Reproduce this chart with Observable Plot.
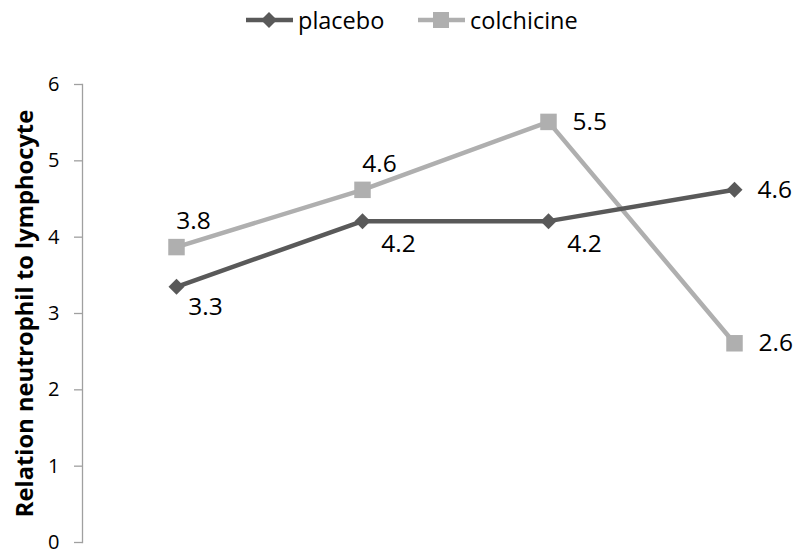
<!DOCTYPE html>
<html>
<head>
<meta charset="utf-8">
<script src="https://cdn.jsdelivr.net/npm/d3@7"></script>
<script src="https://cdn.jsdelivr.net/npm/@observablehq/plot@0.6"></script>
<style>
  body { margin: 0; background: #fff; font-family: "Open Sans", sans-serif; }
  #legend { height: 40px; position: relative; font-size: 23.5px; color: #000; }
  #legend .item { position: absolute; top: 5px; display: flex; align-items: center; height: 30px; }
  #legend svg { display: block; margin-right: 5px; }
</style>
</head>
<body>
<div id="legend"></div>
<div id="chart"></div>
<script>
const timepoints = ["T1", "T2", "T3", "T4"];
const seriesNames = ["placebo", "colchicine"];
const placeboValues = [3.35, 4.21, 4.21, 4.62];
const colchicineValues = [3.87, 4.62, 5.51, 2.61];
const placeboLabels = ["3.3", "4.2", "4.2", "4.6"];
const colchicineLabels = ["3.8", "4.6", "5.5", "2.6"];
const yTicks = [0, 1, 2, 3, 4, 5, 6];
const yTitle = "Relation neutrophil to lymphocyte";

const colors = { placebo: "#595959", colchicine: "#afafaf" };

const placebo = timepoints.map((t, i) => ({ t, i, v: placeboValues[i], label: placeboLabels[i] }));
const colchicine = timepoints.map((t, i) => ({ t, i, v: colchicineValues[i], label: colchicineLabels[i] }));

// Legend
const legend = document.getElementById("legend");
function addItem(name, left, symbol) {
  const div = document.createElement("div");
  div.className = "item";
  div.style.left = left + "px";
  const c = colors[name];
  const marker = symbol === "diamond"
    ? `<path d="M23,7 L31,15 L23,23 L15,15 Z" fill="${c}"/>`
    : `<rect x="15" y="7" width="16" height="16" fill="${c}"/>`;
  div.innerHTML = `<svg width="47" height="30"><line x1="0" x2="47" y1="15" y2="15" stroke="${c}" stroke-width="4.5"/>${marker}</svg><span>${name}</span>`;
  legend.appendChild(div);
}
addItem(seriesNames[0], 246, "diamond");
addItem(seriesNames[1], 418, "square");

const labelFont = 24.5;

const chart = Plot.plot({
  width: 795,
  height: 513,
  marginLeft: 82,
  marginRight: 10,
  marginTop: 44,
  marginBottom: 11,
  style: { fontFamily: "Open Sans, sans-serif", background: "#fff", color: "#000" },
  x: { type: "point", domain: timepoints, range: [175, 735], padding: 0, axis: null },
  y: { domain: [0, 6], axis: null },
  marks: [
    Plot.frame({ anchor: "left", stroke: "#a0a0a0", strokeWidth: 1.3 }),
    Plot.axisY({ ticks: yTicks, tickFormat: d => String(d), tickSize: 8, tickPadding: 15, fontSize: 20, stroke: "#a0a0a0", strokeWidth: 1.3, label: null }),
    Plot.text([yTitle], { frameAnchor: "left", textAnchor: "middle", rotate: -90, dx: -57, fontSize: 23.7, fontWeight: "bold", fill: "#000" }),
    Plot.line(colchicine, { x: "t", y: "v", stroke: colors.colchicine, strokeWidth: 4.5 }),
    Plot.line(placebo, { x: "t", y: "v", stroke: colors.placebo, strokeWidth: 4.5 }),
    Plot.dot(colchicine, { x: "t", y: "v", symbol: "square", r: 9.3, fill: colors.colchicine, stroke: null }),
    Plot.dot(placebo, { x: "t", y: "v", symbol: "diamond2", r: 7.2, fill: colors.placebo, stroke: null }),
    // colchicine labels: first two above, last two right
    Plot.text(colchicine, Plot.filter(d => d.i < 2, { x: "t", y: "v", text: "label", dx: 17, dy: -26, fontSize: labelFont, fill: "#000" })),
    Plot.text(colchicine, Plot.filter(d => d.i >= 2, { x: "t", y: "v", text: "label", dx: 24, textAnchor: "start", fontSize: labelFont, fill: "#000" })),
    // placebo labels: first three below-right, last right
    Plot.text(placebo, Plot.filter(d => d.i === 0, { x: "t", y: "v", text: "label", dx: 29, dy: 20, fontSize: labelFont, fill: "#000" })),
    Plot.text(placebo, Plot.filter(d => d.i > 0 && d.i < 3, { x: "t", y: "v", text: "label", dx: 36, dy: 23, fontSize: labelFont, fill: "#000" })),
    Plot.text(placebo, Plot.filter(d => d.i === 3, { x: "t", y: "v", text: "label", dx: 23, textAnchor: "start", fontSize: labelFont, fill: "#000" }))
  ]
});
document.getElementById("chart").appendChild(chart);
</script>
</body>
</html>
